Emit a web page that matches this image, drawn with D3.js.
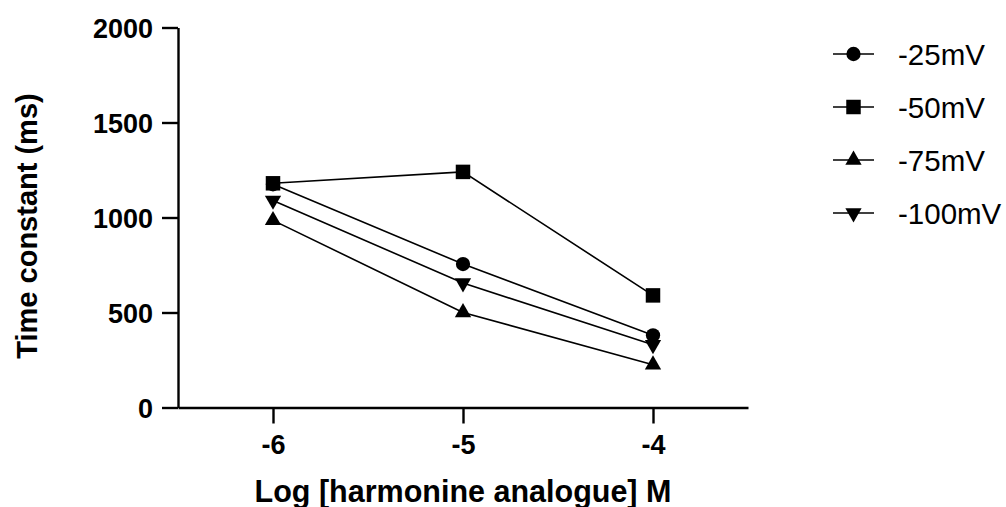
<!DOCTYPE html>
<html>
<head>
<meta charset="utf-8">
<script src="https://cdn.jsdelivr.net/npm/d3@7"></script>
<style>
    body { margin: 0; background: #fff; }
    svg { display: block; font-family: 'Liberation Sans', Arial, sans-serif; }
</style>
</head>
<body>
<svg></svg>
<script>
// chart values
const xValues = [-6, -5, -4];
const seriesNames = ['-25mV', '-50mV', '-75mV', '-100mV'];
const seriesShapes = ['circle', 'square', 'up', 'down'];
const mv25 = [1175, 755, 380];
const mv50 = [1180, 1240, 590];
const mv75 = [985, 500, 225];
const mv100 = [1090, 655, 330];
const yTicks = [0, 500, 1000, 1500, 2000];
const xTicks = [-6, -5, -4];

const allSeries = [mv25, mv50, mv75, mv100];

var width = 1006,
    height = 507;

const xScale = d3.scaleLinear()
    .domain([-6.5, -3.5])
    .range([178, 748]);

const yScale = d3.scaleLinear()
    .domain([0, 2000])
    .range([407.5, 27.5]);

const container = d3.select('svg')
    .attr('width', width)
    .attr('height', height);

// marker shapes
function symbolPath(shape) {
    if (shape == 'circle') return d3.symbol(d3.symbolCircle, 160)();
    if (shape == 'square') return d3.symbol(d3.symbolSquare, 210)();
    return d3.symbol(d3.symbolTriangle, 115)();
}
function symbolTransform(shape, x, y) {
    return 'translate(' + x + ',' + y + ')' + (shape == 'down' ? ' rotate(180)' : '');
}

// y axis
const yAxis = container.append('g')
    .attr('transform', 'translate(' + xScale.range()[0] + ',0)')
    .call(d3.axisLeft(yScale).tickValues(yTicks).tickFormat(d => String(d))
        .tickSize(16).tickPadding(9).tickSizeOuter(0));

// x axis
const xAxis = container.append('g')
    .attr('transform', 'translate(0,' + yScale(0) + ')')
    .call(d3.axisBottom(xScale).tickValues(xTicks).tickFormat(d => String(d))
        .tickSize(16).tickPadding(11).tickSizeOuter(0));

[yAxis, xAxis].forEach(function(ax) {
    ax.select('.domain').attr('stroke', '#000').attr('stroke-width', 2.4);
    ax.selectAll('.tick line').attr('stroke', '#000').attr('stroke-width', 2.4);
    ax.selectAll('.tick text')
        .attr('fill', '#000')
        .attr('font-size', 27)
        .attr('font-weight', 'bold')
        .attr('font-family', "'Liberation Sans', Arial, sans-serif");
});
yAxis.selectAll('.tick text').attr('dy', '0.36em');

// axis titles
container.append('text')
    .attr('x', 463)
    .attr('y', 502)
    .attr('text-anchor', 'middle')
    .attr('font-size', 30.5)
    .attr('font-weight', 'bold')
    .text('Log [harmonine analogue] M');

container.append('text')
    .attr('transform', 'translate(37,226) rotate(-90)')
    .attr('text-anchor', 'middle')
    .attr('font-size', 29)
    .attr('font-weight', 'bold')
    .text('Time constant (ms)');

// lines and points
const line = d3.line()
    .x((d, i) => xScale(xValues[i]))
    .y(d => yScale(d));

allSeries.forEach(function(vals, s) {
    container.append('path')
        .datum(vals)
        .attr('d', line)
        .attr('fill', 'none')
        .attr('stroke', '#000')
        .attr('stroke-width', 1.6);
});

allSeries.forEach(function(vals, s) {
    container.selectAll('.pt' + s)
        .data(vals)
        .enter()
        .append('path')
        .classed('pt' + s, true)
        .attr('d', symbolPath(seriesShapes[s]))
        .attr('transform', (d, i) => symbolTransform(seriesShapes[s], xScale(xValues[i]), yScale(d)))
        .attr('fill', '#000');
});

// legend
const legend = container.append('g')
    .attr('transform', 'translate(833,54)');

const items = legend.selectAll('g')
    .data(seriesNames)
    .enter()
    .append('g')
    .attr('transform', (d, i) => 'translate(0,' + i * 53 + ')');

items.append('line')
    .attr('x1', 0)
    .attr('x2', 41)
    .attr('stroke', '#000')
    .attr('stroke-width', 1.6);

items.append('path')
    .attr('d', (d, i) => symbolPath(seriesShapes[i]))
    .attr('transform', (d, i) => symbolTransform(seriesShapes[i], 20.5, 0))
    .attr('fill', '#000');

items.append('text')
    .attr('x', 65)
    .attr('dy', '0.36em')
    .attr('font-size', 29.5)
    .text(d => d);
</script>
</body>
</html>
